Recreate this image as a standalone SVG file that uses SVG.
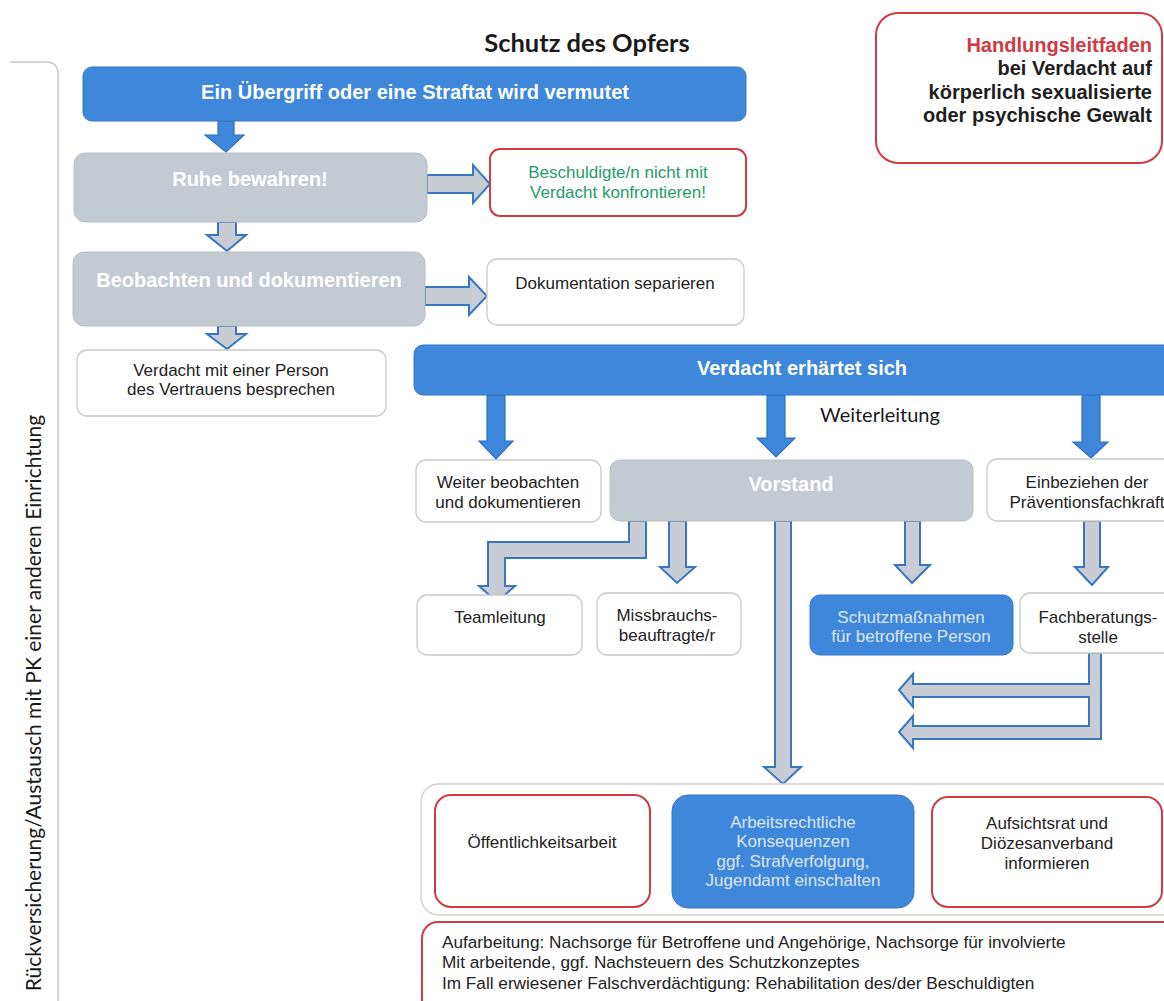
<svg xmlns="http://www.w3.org/2000/svg" width="1164" height="1001" viewBox="0 0 1164 1001">
<style>
.bg{fill:#ffffff}
.blue{fill:#3e87da;stroke:#3576c6;stroke-width:1}
.grey{fill:#c4cad2;stroke:#b9bec6;stroke-width:1}
.white{fill:#ffffff;stroke:#c9c9c9;stroke-width:1.3}
.red{fill:#ffffff;stroke:#d03a44;stroke-width:2}
.cont{fill:#ffffff;stroke:#cfcfcf;stroke-width:1.3}
.barrow{fill:#3e87da;stroke:#2f6fbf;stroke-width:1.2;stroke-linejoin:miter}
.harrow{fill:#c8cdd5;stroke:#3a76c0;stroke-width:2;stroke-linejoin:miter}
text{font-family:"Liberation Sans",Arial,sans-serif}
.hb{font-size:20px;font-weight:bold;fill:#ffffff;text-anchor:middle}
.t{font-size:17px;fill:#222222;text-anchor:middle}
.tl{font-size:17px;fill:#dbe6f4;text-anchor:middle}
.green{font-size:17px;fill:#1f9c6c;text-anchor:middle}
.cal{font-family:Lato,"Open Sans",sans-serif;fill:#1a1a1a}
.hl{font-size:20px;font-weight:bold;fill:#1e1e1e;text-anchor:end}
</style>
<rect class="bg" x="0" y="0" width="1164" height="1001"/>

<!-- left bracket and vertical label -->
<g id="side">
<path d="M10 62 H46 Q58 62 58 74 V1001" fill="none" stroke="#c8c8c8" stroke-width="1.5"/>
<text class="cal" x="36" y="703" transform="rotate(-90 36 703)" font-size="21" text-anchor="middle" dominant-baseline="middle">Rückversicherung/Austausch mit PK einer anderen Einrichtung</text>
</g>

<g id="title">
<text class="cal" x="587" y="52" font-size="25.5" font-weight="bold" text-anchor="middle">Schutz des Opfers</text>
</g>

<g id="handlungsleitfaden">
<rect class="red" x="876" y="13" width="286" height="150" rx="22"/>
<text class="hl" x="1152" y="52" style="fill:#d03a44">Handlungsleitfaden</text>
<text class="hl" x="1152" y="75">bei Verdacht auf</text>
<text class="hl" x="1152" y="99">körperlich sexualisierte</text>
<text class="hl" x="1152" y="122">oder psychische Gewalt</text>
</g>

<!-- connectors -->
<g id="connectors">
<!-- blue down arrows -->
<polygon class="barrow" points="218,121 234,121 234,135 244,135 226,152 205,135 218,135"/>
<polygon class="barrow" points="487,395 505,395 505,441 513,441 496,459 479,441 487,441"/>
<polygon class="barrow" points="767,395 785,395 785,438 795,438 776,457 757,438 767,438"/>
<polygon class="barrow" points="1082,395 1100,395 1100,442 1108,442 1091,458 1073,442 1082,442"/>
<!-- hollow arrows upper left -->
<polygon class="harrow" points="427,175 473,175 473,165 490,184 473,203 473,193 427,193"/>
<polygon class="harrow" points="218,222 236,222 236,235 246,235 227,251 207,235 218,235"/>
<polygon class="harrow" points="425,287 469,287 469,277 487,296 469,315 469,305 425,305"/>
<polygon class="harrow" points="218,326 236,326 236,334 246,334 227,349 207,334 218,334"/>
<!-- Vorstand arrows -->
<polygon class="harrow" points="629,521 646,521 646,558 505,558 505,586 515,586 497,602 479,586 488,586 488,542 629,542"/>
<polygon class="harrow" points="669,521 686,521 686,567 695,567 677,583 660,567 669,567"/>
<polygon class="harrow" points="775,521 791,521 791,767 801,767 783,784 764,767 775,767"/>
<polygon class="harrow" points="905,521 920,521 920,565 930,565 912,583 895,565 905,565"/>
<polygon class="harrow" points="1084,521 1100,521 1100,567 1108,567 1092,585 1075,567 1084,567"/>
<!-- Fachberatungsstelle bracket arrows -->
<polygon class="harrow" points="1089,653 1101,653 1101,739 913,739 913,748 899,732 913,716 913,726 1089,726 1089,697 913,697 913,707 899,690 913,674 913,684 1089,684"/>
</g>

<g id="n-start">
<rect class="blue" x="83" y="67" width="663" height="54" rx="9"/>
<text class="hb" x="415" y="99">Ein Übergriff oder eine Straftat wird vermutet</text>
</g>

<g id="n-ruhe">
<rect class="grey" x="74" y="153" width="353" height="69" rx="11"/>
<text class="hb" x="250" y="186">Ruhe bewahren!</text>
</g>

<g id="n-beschuldigte">
<rect class="red" x="490" y="149" width="256" height="67" rx="10"/>
<text class="green" x="618" y="178">Beschuldigte/n nicht mit</text>
<text class="green" x="618" y="198">Verdacht konfrontieren!</text>
</g>

<g id="n-beobachten">
<rect class="grey" x="73" y="252" width="352" height="74" rx="11"/>
<text class="hb" x="249" y="287">Beobachten und dokumentieren</text>
</g>

<g id="n-dokumentation">
<rect class="white" x="487" y="259" width="257" height="66" rx="10"/>
<text class="t" x="615" y="289">Dokumentation separieren</text>
</g>

<g id="n-vertrauen">
<rect class="white" x="77" y="350" width="309" height="66" rx="10"/>
<text class="t" x="231" y="376">Verdacht mit einer Person</text>
<text class="t" x="231" y="395">des Vertrauens besprechen</text>
</g>

<g id="n-erhaertet">
<rect class="blue" x="414" y="345" width="780" height="50" rx="9"/>
<text class="hb" x="802" y="375">Verdacht erhärtet sich</text>
</g>

<g id="weiterleitung">
<text class="cal" x="880" y="422" font-size="20" text-anchor="middle">Weiterleitung</text>
</g>

<g id="n-weiter">
<rect class="white" x="416" y="460" width="185" height="62" rx="10"/>
<text class="t" x="508" y="488">Weiter beobachten</text>
<text class="t" x="508" y="508">und dokumentieren</text>
</g>

<g id="n-vorstand">
<rect class="grey" x="610" y="460" width="363" height="61" rx="10"/>
<text class="hb" x="791" y="491">Vorstand</text>
</g>

<g id="n-einbeziehen">
<rect class="white" x="987" y="459" width="200" height="62" rx="10"/>
<text class="t" x="1087" y="488">Einbeziehen der</text>
<text class="t" x="1087" y="508">Präventionsfachkraft</text>
</g>

<g id="n-teamleitung">
<rect class="white" x="417" y="595" width="165" height="60" rx="10"/>
<text class="t" x="500" y="623">Teamleitung</text>
</g>

<g id="n-missbrauch">
<rect class="white" x="597" y="593" width="144" height="62" rx="10"/>
<text class="t" x="667" y="621">Missbrauchs-</text>
<text class="t" x="667" y="641">beauftragte/r</text>
</g>

<g id="n-schutz">
<rect class="blue" x="810" y="595" width="203" height="60" rx="10"/>
<text class="tl" x="911" y="623">Schutzmaßnahmen</text>
<text class="tl" x="911" y="642">für betroffene Person</text>
</g>

<g id="n-fachberatung">
<rect class="white" x="1020" y="593" width="170" height="60" rx="10"/>
<text class="t" x="1098" y="623">Fachberatungs-</text>
<text class="t" x="1098" y="643">stelle</text>
</g>

<g id="n-container">
<rect class="cont" x="421" y="784" width="770" height="131" rx="18"/>
</g>

<g id="n-oeffentlichkeit">
<rect class="red" x="435" y="795" width="215" height="112" rx="16"/>
<text class="t" x="542" y="848">Öffentlichkeitsarbeit</text>
</g>

<g id="n-arbeitsrecht">
<rect class="blue" x="672" y="795" width="242" height="113" rx="16"/>
<text class="tl" x="793" y="828">Arbeitsrechtliche</text>
<text class="tl" x="793" y="847">Konsequenzen</text>
<text class="tl" x="793" y="867">ggf. Strafverfolgung,</text>
<text class="tl" x="793" y="886">Jugendamt einschalten</text>
</g>

<g id="n-aufsichtsrat">
<rect class="red" x="932" y="797" width="230" height="110" rx="16"/>
<text class="t" x="1047" y="829">Aufsichtsrat und</text>
<text class="t" x="1047" y="849">Diözesanverband</text>
<text class="t" x="1047" y="869">informieren</text>
</g>

<g id="n-aufarbeitung">
<rect class="red" x="422" y="922" width="780" height="100" rx="16"/>
<text class="t" x="442" y="948" style="text-anchor:start;font-size:17.2px">Aufarbeitung: Nachsorge für Betroffene und Angehörige, Nachsorge für involvierte</text>
<text class="t" x="442" y="968" style="text-anchor:start;font-size:17.2px">Mit arbeitende, ggf. Nachsteuern des Schutzkonzeptes</text>
<text class="t" x="442" y="989" style="text-anchor:start;font-size:17.2px">Im Fall erwiesener Falschverdächtigung: Rehabilitation des/der Beschuldigten</text>
</g>
</svg>
